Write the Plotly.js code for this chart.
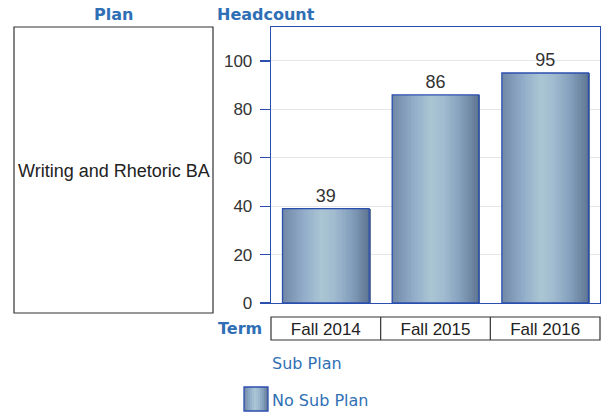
<!DOCTYPE html>
<html><head><meta charset="utf-8">
<script src="https://cdn.plot.ly/plotly-3.0.1.min.js"></script>
<style>body{margin:0;padding:0;background:#fff}#chart{width:602px;height:414px}</style>
</head><body><div id="chart"></div>
<script>
const terms = ["Fall 2014", "Fall 2015", "Fall 2016"];
const headcount = [39, 86, 95];
const planLabel = "Writing and Rhetoric BA";
const subPlanName = "No Sub Plan";

const L = 271, R = 600, T = 27, B = 303, W = 602, H = 414;
const px = x => (x - L) / (R - L);
const py = y => (B - y) / (B - T);

const stops = [[0,[112,136,166]],[0.25,[146,173,201]],[0.45,[170,198,211]],[0.6,[160,186,207]],[0.8,[131,158,187]],[1,[94,117,145]]];
function colAt(t){
  for(let i=1;i<stops.length;i++){
    if(t<=stops[i][0]){
      const a=stops[i-1],b=stops[i];const f=(t-a[0])/(b[0]-a[0]);
      const c=a[1].map((v,k)=>Math.round(v+(b[1][k]-v)*f));
      return `rgb(${c[0]},${c[1]},${c[2]})`;
    }
  }
  const c=stops[stops.length-1][1];return `rgb(${c[0]},${c[1]},${c[2]})`;
}
const bw = 0.79, N = 60;
const traces = [];
for(let i=0;i<N;i++){
  const sw = bw/N;
  traces.push({type:'bar', x:terms, y:headcount, offset:-bw/2+i*sw,
    width: i<N-1 ? sw*3 : sw, marker:{color:colAt((i+0.5)/N), line:{width:0}},
    hoverinfo:'skip', showlegend:false});
}
traces.push({type:'bar', x:terms, y:headcount, width:bw, name:subPlanName,
  marker:{color:'rgba(0,0,0,0)', line:{color:'#2b4fae', width:1.3}},
  text:headcount.map(String), textposition:'outside', cliponaxis:false,
  textfont:{family:'Liberation Sans, Arial, sans-serif', size:18, color:'#333'}, showlegend:false});

const blue = '#2f6fb5';
const titleFont = {family:'DejaVu Sans, Verdana, sans-serif', size:16, color:blue, weight:'bold'};
const shapes = [
  {type:'rect', xref:'paper', yref:'paper', x0:px(14), x1:px(213), y0:py(313), y1:1, line:{color:'#333', width:1.2}},
  {type:'rect', xref:'paper', yref:'paper', x0:0, x1:1, y0:py(317), y1:py(340), line:{color:'#333', width:1.2}},
  {type:'line', xref:'x', yref:'paper', x0:0.5, x1:0.5, y0:py(317), y1:py(340), line:{color:'#333', width:1.2}},
  {type:'line', xref:'x', yref:'paper', x0:1.5, x1:1.5, y0:py(317), y1:py(340), line:{color:'#333', width:1.2}}
];
// legend swatch gradient
const sx0=244, sx1=268, M=12;
for(let i=0;i<M;i++){
  const a = sx0 + (sx1-sx0)*i/M, b = sx0 + (sx1-sx0)*(i+1)/M + (i<M-1?0.6:0);
  shapes.push({type:'rect', xref:'paper', yref:'paper', x0:px(a), x1:px(b), y0:py(411), y1:py(387), line:{width:0}, fillcolor:colAt((i+0.5)/M), layer:'above'});
}
shapes.push({type:'rect', xref:'paper', yref:'paper', x0:px(sx0), x1:px(sx1), y0:py(411), y1:py(387), line:{color:'#2b4fae', width:1.3}, layer:'above'});

const annotations = [
  {text:'Plan', xref:'paper', yref:'paper', x:px(113), y:py(14), showarrow:false, font:titleFont, xanchor:'center', yanchor:'middle'},
  {text:'Headcount', xref:'paper', yref:'paper', x:px(215), y:py(14), showarrow:false, font:titleFont, xanchor:'left', yanchor:'middle'},
  {text:'Term', xref:'paper', yref:'paper', x:px(264), y:py(328), showarrow:false, font:titleFont, xanchor:'right', yanchor:'middle'},
  {text:planLabel, xref:'paper', yref:'paper', x:px(114), y:py(171), showarrow:false, font:{family:'Liberation Sans, Arial, sans-serif', size:18, color:'#222'}, xanchor:'center', yanchor:'middle'},
  {text:'Sub Plan', xref:'paper', yref:'paper', x:px(270), y:py(363), showarrow:false, font:{family:'DejaVu Sans, Verdana, sans-serif', size:16, color:blue}, xanchor:'left', yanchor:'middle'},
  {text:subPlanName, xref:'paper', yref:'paper', x:px(270), y:py(400), showarrow:false, font:{family:'DejaVu Sans, Verdana, sans-serif', size:16, color:blue}, xanchor:'left', yanchor:'middle'}
];

const layout = {
  width:W, height:H, margin:{l:L, r:W-R, t:T, b:H-B},
  paper_bgcolor:'#fff', plot_bgcolor:'#fff', barmode:'overlay', bargap:0, showlegend:false,
  xaxis:{type:'category', range:[-0.5,2.5], showline:true, mirror:true, linecolor:'#2b4fae', linewidth:1.3,
    ticks:'', showgrid:false, ticklabelstandoff:10,
    tickfont:{family:'Liberation Sans, Arial, sans-serif', size:17, color:'#222'}},
  yaxis:{range:[0,114], dtick:20, showline:true, mirror:true, linecolor:'#2b4fae', linewidth:1.3,
    ticks:'outside', ticklen:10, tickcolor:'#2b4fae', tickwidth:1.3, gridcolor:'#e6e6ea', zeroline:false,
    ticklabelstandoff:4,
    tickfont:{family:'Liberation Sans, Arial, sans-serif', size:17, color:'#333'}},
  shapes:shapes, annotations:annotations, font:{family:'Liberation Sans, Arial, sans-serif'}
};
Plotly.newPlot('chart', traces, layout, {displayModeBar:false, staticPlot:true});
</script></body></html>
